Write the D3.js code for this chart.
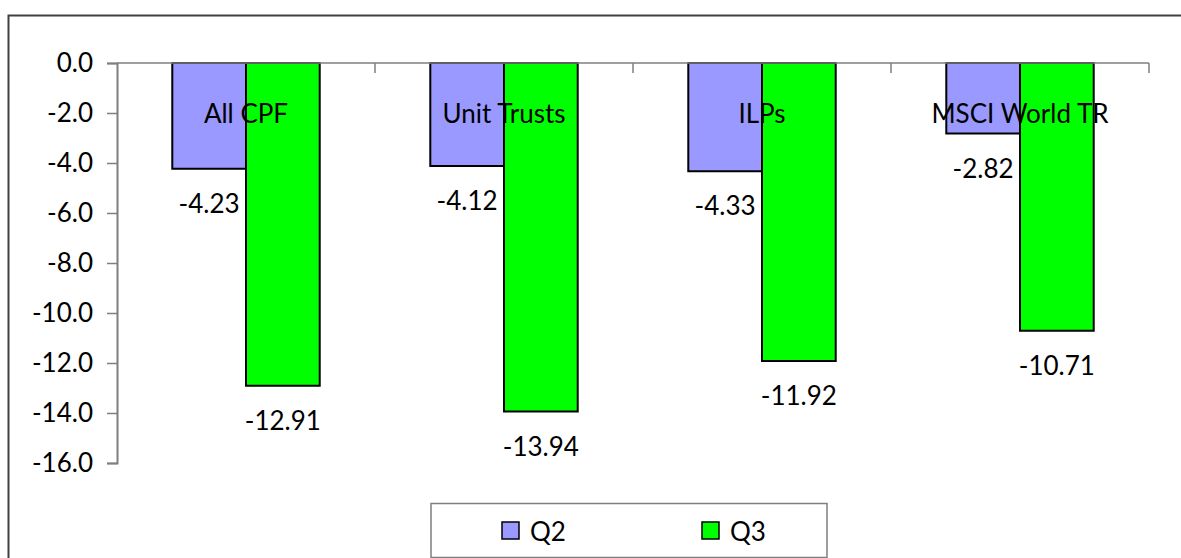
<!DOCTYPE html>
<html>
<head>
<meta charset="utf-8">
<script src="https://cdn.jsdelivr.net/npm/d3@7"></script>
<style>
  html, body { margin: 0; padding: 0; background: #fff; }
  svg { display: block; }
  text { font-family: Lato, "Open Sans", sans-serif; fill: #000; }
</style>
</head>
<body>
<svg id="chart" width="1181" height="558"></svg>
<script>
const categories = ["All CPF", "Unit Trusts", "ILPs", "MSCI World TR"];
const seriesNames = ["Q2", "Q3"];
const q2Values = [-4.23, -4.12, -4.33, -2.82];
const q3Values = [-12.91, -13.94, -11.92, -10.71];
const yTicks = [0, -2, -4, -6, -8, -10, -12, -14, -16];
const seriesColors = ["#9999FF", "#00FF00"];

const seriesValues = [q2Values, q3Values];
const FS = 26;

const svg = d3.select("#chart");
const W = 1181, H = 558;

// outer chart border (clipped at right/bottom like the reference)
svg.append("rect")
  .attr("x", 8.5).attr("y", 15.5)
  .attr("width", W + 20).attr("height", H + 20)
  .attr("fill", "#fff")
  .attr("stroke", "#404040").attr("stroke-width", 2);

const plotLeft = 117, plotRight = 1149, plotTop = 63, plotBottom = 463;

const x0 = d3.scaleBand()
  .domain(categories)
  .range([plotLeft, plotRight])
  .paddingInner(0).paddingOuter(0);

// gap width 150% -> each group occupies 2/(2+1.5) of the band
const groupFrac = 2 / 3.5;
const x1 = d3.scaleBand()
  .domain(seriesNames)
  .range([0, x0.bandwidth() * groupFrac]);
const groupOffset = (x0.bandwidth() * (1 - groupFrac)) / 2;

const y = d3.scaleLinear().domain([-16, 0]).range([plotBottom, plotTop]);

// bars
const groups = svg.append("g").selectAll("g")
  .data(categories)
  .join("g")
  .attr("transform", c => `translate(${x0(c) + groupOffset},0)`);

groups.each(function (c, ci) {
  const g = d3.select(this);
  seriesNames.forEach((s, si) => {
    const v = seriesValues[si][ci];
    g.append("rect")
      .attr("x", x1(s))
      .attr("y", y(0))
      .attr("width", x1.bandwidth())
      .attr("height", y(v) - y(0))
      .attr("fill", seriesColors[si])
      .attr("stroke", "#000")
      .attr("stroke-width", 2);
  });
});

// y axis
const yAxis = d3.axisLeft(y)
  .tickValues(yTicks)
  .tickSize(10)
  .tickPadding(14)
  .tickFormat(d => d.toFixed(1).replace("\u2212", "-"));

const yg = svg.append("g")
  .attr("transform", `translate(${plotLeft},0)`)
  .call(yAxis);
yg.select(".domain").attr("stroke", "#7f7f7f").attr("stroke-width", 2);
yg.selectAll(".tick line").attr("stroke", "#7f7f7f").attr("stroke-width", 1.5);
yg.selectAll(".tick text")
  .attr("font-size", FS)
  .attr("font-family", "Lato, 'Open Sans', sans-serif")
  .attr("fill", "#000");

// x axis line at zero with boundary ticks pointing down
const xg = svg.append("g");
xg.append("line")
  .attr("x1", plotLeft).attr("x2", plotRight)
  .attr("y1", y(0)).attr("y2", y(0))
  .attr("stroke", "#7f7f7f").attr("stroke-width", 1.5);
const boundaries = categories.map(c => x0(c) + x0.bandwidth());
xg.selectAll("line.tk")
  .data(boundaries)
  .join("line")
  .attr("class", "tk")
  .attr("x1", d => d).attr("x2", d => d)
  .attr("y1", y(0)).attr("y2", y(0) + 10)
  .attr("stroke", "#7f7f7f").attr("stroke-width", 1.5);

// value labels
groups.each(function (c, ci) {
  const g = d3.select(this);
  seriesNames.forEach((s, si) => {
    const v = seriesValues[si][ci];
    g.append("text")
      .attr("x", x1(s) + x1.bandwidth() / 2)
      .attr("y", y(v) + 34)
      .attr("text-anchor", "middle")
      .attr("dominant-baseline", "central")
      .attr("font-size", FS)
      .text(v.toFixed(2));
  });
});

// category labels (drawn over bars)
svg.append("g").selectAll("text")
  .data(categories)
  .join("text")
  .attr("x", c => x0(c) + x0.bandwidth() / 2)
  .attr("y", 113)
  .attr("text-anchor", "middle")
  .attr("dominant-baseline", "central")
  .attr("font-size", FS)
  .text(c => c);

// legend
const legend = svg.append("g");
legend.append("rect")
  .attr("x", 431).attr("y", 503.5)
  .attr("width", 396).attr("height", 54)
  .attr("fill", "#fff")
  .attr("stroke", "#7f7f7f").attr("stroke-width", 1.5);

const legendX = d3.scalePoint().domain(seriesNames).range([501, 701]);
const li = legend.selectAll("g.item")
  .data(seriesNames)
  .join("g")
  .attr("class", "item")
  .attr("transform", s => `translate(${legendX(s)},0)`);
li.append("rect")
  .attr("x", 1).attr("y", 522)
  .attr("width", 17).attr("height", 17)
  .attr("fill", (s, i) => seriesColors[i])
  .attr("stroke", "#000").attr("stroke-width", 1.5);
li.append("text")
  .attr("x", 29).attr("y", 531)
  .attr("dominant-baseline", "central")
  .attr("font-size", FS)
  .text(s => s);
</script>
</body>
</html>
